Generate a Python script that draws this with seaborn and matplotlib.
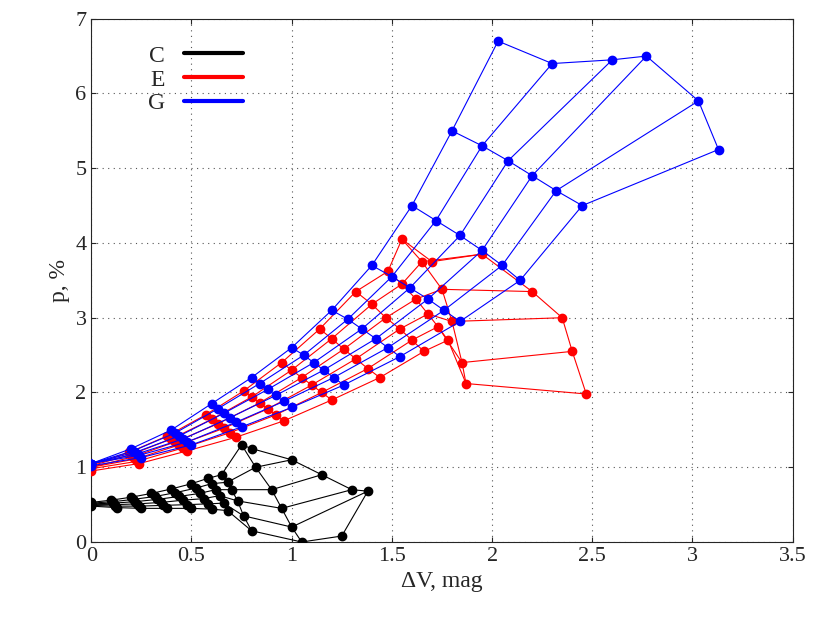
import matplotlib
matplotlib.use("Agg")
import matplotlib.pyplot as plt
import numpy as np
import seaborn as sns

# Each family is a mesh: rows are curves of one model parameter, columns join them.
c_x = [[0, 0.10, 0.20, 0.30, 0.40, 0.50, 0.58, 0.65, 0.75, 0.80],
       [0, 0.11, 0.21, 0.32, 0.42, 0.52, 0.60, 0.68, 0.82, 1.00],
       [0, 0.11, 0.22, 0.33, 0.44, 0.54, 0.62, 0.70, 0.90, 1.15],
       [0, 0.12, 0.23, 0.35, 0.46, 0.56, 0.64, 0.73, 0.95, 1.30],
       [0, 0.12, 0.24, 0.36, 0.48, 0.58, 0.66, 0.76, 1.00, 1.38],
       [0, 0.13, 0.25, 0.38, 0.50, 0.60, 0.68, 0.80, 1.05, 1.25]]
c_y = [[0.53, 0.56, 0.60, 0.65, 0.71, 0.78, 0.85, 0.90, 1.30, 1.25],
       [0.52, 0.54, 0.57, 0.61, 0.66, 0.72, 0.78, 0.80, 1.00, 1.10],
       [0.51, 0.52, 0.54, 0.57, 0.61, 0.65, 0.70, 0.70, 0.70, 0.90],
       [0.50, 0.50, 0.51, 0.53, 0.56, 0.58, 0.62, 0.55, 0.45, 0.70],
       [0.49, 0.48, 0.48, 0.49, 0.50, 0.51, 0.52, 0.35, 0.20, 0.68],
       [0.48, 0.46, 0.45, 0.45, 0.45, 0.44, 0.42, 0.15, 0.00, 0.08]]

e_x = [[0, 0.19, 0.38, 0.57, 0.76, 0.95, 1.14, 1.32, 1.48, 1.55, 1.70],
       [0, 0.20, 0.40, 0.60, 0.80, 1.00, 1.20, 1.40, 1.55, 1.65, 1.95],
       [0, 0.21, 0.42, 0.63, 0.84, 1.05, 1.26, 1.47, 1.62, 1.75, 2.20],
       [0, 0.22, 0.44, 0.66, 0.88, 1.10, 1.32, 1.54, 1.68, 1.80, 2.35],
       [0, 0.23, 0.46, 0.69, 0.92, 1.15, 1.38, 1.60, 1.73, 1.85, 2.40],
       [0, 0.24, 0.48, 0.72, 0.96, 1.20, 1.44, 1.66, 1.78, 1.87, 2.47]]
e_y = [[1.03, 1.20, 1.42, 1.70, 2.02, 2.40, 2.85, 3.35, 3.62, 4.05, 3.75],
       [1.02, 1.17, 1.38, 1.64, 1.94, 2.30, 2.72, 3.18, 3.45, 3.75, 3.85],
       [1.00, 1.14, 1.34, 1.58, 1.86, 2.20, 2.58, 3.00, 3.25, 3.38, 3.35],
       [1.00, 1.11, 1.30, 1.52, 1.78, 2.10, 2.45, 2.85, 3.05, 2.95, 3.00],
       [0.98, 1.08, 1.26, 1.46, 1.70, 2.00, 2.32, 2.70, 2.88, 2.40, 2.55],
       [0.95, 1.05, 1.22, 1.40, 1.62, 1.90, 2.20, 2.55, 2.70, 2.12, 1.98]]

g_x = [[0, 0.20, 0.40, 0.60, 0.80, 1.00, 1.20, 1.40, 1.60, 1.80, 2.03],
       [0, 0.21, 0.42, 0.63, 0.84, 1.06, 1.28, 1.50, 1.72, 1.95, 2.30],
       [0, 0.22, 0.44, 0.66, 0.88, 1.11, 1.35, 1.59, 1.84, 2.08, 2.60],
       [0, 0.23, 0.46, 0.69, 0.92, 1.16, 1.42, 1.68, 1.95, 2.20, 2.77],
       [0, 0.24, 0.48, 0.72, 0.96, 1.21, 1.48, 1.76, 2.05, 2.32, 3.03],
       [0, 0.25, 0.50, 0.75, 1.00, 1.26, 1.54, 1.84, 2.14, 2.45, 3.13]]
g_y = [[1.05, 1.25, 1.50, 1.85, 2.20, 2.60, 3.10, 3.70, 4.50, 5.50, 6.70],
       [1.05, 1.22, 1.46, 1.78, 2.12, 2.50, 2.98, 3.55, 4.30, 5.30, 6.40],
       [1.05, 1.20, 1.42, 1.72, 2.04, 2.40, 2.85, 3.40, 4.10, 5.10, 6.45],
       [1.05, 1.18, 1.38, 1.66, 1.96, 2.30, 2.72, 3.25, 3.90, 4.90, 6.50],
       [1.05, 1.16, 1.34, 1.60, 1.88, 2.20, 2.60, 3.10, 3.70, 4.70, 5.90],
       [1.02, 1.13, 1.30, 1.54, 1.80, 2.10, 2.48, 2.95, 3.50, 4.50, 5.25]]

families = [("C", c_x, c_y, "black"), ("E", e_x, e_y, "red"), ("G", g_x, g_y, "blue")]

sns.set_style("ticks")
plt.rcParams["font.family"] = ["Liberation Serif", "DejaVu Serif"]

fig, ax = plt.subplots(figsize=(8.3, 6.23), dpi=100)

handles = []
for name, xs, ys, color in families:
    xs, ys = np.array(xs), np.array(ys)
    for i in range(xs.shape[0]):
        ax.plot(xs[i], ys[i], color=color, lw=0.8, marker="o", ms=6, zorder=3)
    for j in range(xs.shape[1]):
        ax.plot(xs[:, j], ys[:, j], color=color, lw=0.8, zorder=3)
    h, = ax.plot([], [], color=color, lw=3, label=name)
    handles.append(h)

ax.set_xlim(0, 3.5)
ax.set_ylim(0, 7)
ax.set_xticks(np.arange(0, 3.6, 0.5))
ax.set_xticklabels(["0", "0.5", "1", "1.5", "2", "2.5", "3", "3.5"])
ax.set_yticks(range(0, 8))
ax.grid(True, color="#555555", linestyle=(0, (1, 4)), lw=0.8)
ax.tick_params(direction="in", labelsize=16, top=True, right=True)
for s in ax.spines.values():
    s.set_linewidth(0.8)
ax.set_xlabel("ΔV, mag", fontsize=17)
ax.set_ylabel("p, %", fontsize=17)
ax.legend(handles=handles, loc="upper left", bbox_to_anchor=(0.05, 0.99), frameon=False,
          markerfirst=False, fontsize=17, handlelength=2.5, labelspacing=0.1)

fig.subplots_adjust(left=0.11, right=0.955, bottom=0.13, top=0.97)
fig.savefig("out.png", dpi=100)
